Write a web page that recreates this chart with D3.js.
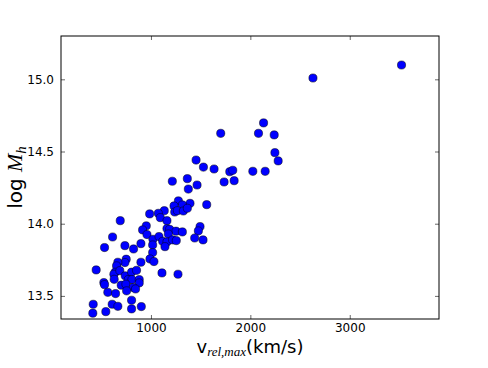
<!DOCTYPE html>
<html>
<head>
<meta charset="utf-8">
<script src="https://cdn.jsdelivr.net/npm/d3@7"></script>
<style>
  html, body { margin: 0; padding: 0; background: #fff; }
  svg { display: block; }
</style>
</head>
<body>
<svg id="chart" width="488" height="368"></svg>
<script>
// Data
const vrel = [3521, 2630, 2133, 1702, 2082, 2240, 2247, 2280, 2025, 2149,
  1454, 1528, 1635, 1793, 1823, 1736, 1837, 1215, 1366, 1376,
  1464, 1561, 1393, 1276, 1316, 1232, 1239, 1266, 1326, 1366,
  1134, 1074, 1094, 987, 1161, 953, 916, 960, 1020, 1081,
  1161, 1188, 1252, 1316, 1175, 1118, 1161, 1218, 1255, 1141,
  1494, 1477, 1440, 1524, 691, 614, 533, 738, 825, 899,
  1017, 1017, 990, 1030, 899, 751, 738, 667, 654, 449,
  640, 627, 687, 741, 805, 855, 630, 771, 808, 882,
  882, 526, 533, 701, 748, 822, 845, 566, 644, 755,
  805, 1111, 1272, 419, 610, 667, 903, 805, 546, 415];
const logMh = [15.099, 15.009, 14.698, 14.626, 14.626, 14.615, 14.492, 14.435, 14.363, 14.363,
  14.441, 14.392, 14.379, 14.360, 14.370, 14.289, 14.298, 14.294, 14.312, 14.240,
  14.268, 14.132, 14.141, 14.158, 14.130, 14.123, 14.081, 14.090, 14.088, 14.107,
  14.090, 14.072, 14.042, 14.068, 14.021, 13.985, 13.957, 13.925, 13.892, 13.911,
  13.966, 13.961, 13.948, 13.943, 13.929, 13.878, 13.874, 13.888, 13.883, 13.841,
  13.980, 13.950, 13.901, 13.888, 14.021, 13.908, 13.835, 13.848, 13.825, 13.862,
  13.853, 13.800, 13.756, 13.738, 13.733, 13.754, 13.731, 13.733, 13.708, 13.680,
  13.664, 13.650, 13.675, 13.639, 13.664, 13.677, 13.615, 13.613, 13.613, 13.613,
  13.590, 13.592, 13.578, 13.574, 13.581, 13.558, 13.548, 13.525, 13.516, 13.535,
  13.470, 13.659, 13.650, 13.442, 13.442, 13.428, 13.426, 13.410, 13.391, 13.380];
const xTicks = [1000, 2000, 3000];
const yTicks = [13.5, 14.0, 14.5, 15.0];
const xDomain = [95, 3898];
const yDomain = [13.34, 15.3];

const svg = d3.select("#chart");
const L = 61, R = 439, T = 36, B = 319;
const x = d3.scaleLinear().domain(xDomain).range([L, R]);
const y = d3.scaleLinear().domain(yDomain).range([B, T]);

const font = "'DejaVu Sans', sans-serif";
const serif = "'Liberation Serif', 'DejaVu Serif', serif";
const tickLen = 4;

// axes with inward ticks on all four sides
const gB = svg.append("g").attr("transform", `translate(0,${B})`)
  .call(d3.axisBottom(x).tickValues(xTicks).tickSizeInner(-tickLen).tickSizeOuter(0).tickPadding(4).tickFormat(d3.format("d")));
const gT = svg.append("g").attr("transform", `translate(0,${T})`)
  .call(d3.axisTop(x).tickValues(xTicks).tickSizeInner(-tickLen).tickSizeOuter(0).tickFormat(""));
const gL = svg.append("g").attr("transform", `translate(${L},0)`)
  .call(d3.axisLeft(y).tickValues(yTicks).tickSizeInner(-tickLen).tickSizeOuter(0).tickPadding(7).tickFormat(d3.format(".1f")));
const gR = svg.append("g").attr("transform", `translate(${R},0)`)
  .call(d3.axisRight(y).tickValues(yTicks).tickSizeInner(-tickLen).tickSizeOuter(0).tickFormat(""));

[gB, gT, gL, gR].forEach(g => {
  g.select(".domain").remove();
  g.selectAll(".tick line").attr("stroke", "#000").attr("stroke-width", 0.6);
  g.selectAll(".tick text").attr("font-family", font).attr("font-size", 12).attr("fill", "#000");
});

// points
svg.append("g").selectAll("circle")
  .data(vrel.map((v, i) => [v, logMh[i]]))
  .join("circle")
  .attr("cx", d => x(d[0]))
  .attr("cy", d => y(d[1]))
  .attr("r", 4.1)
  .attr("fill", "#0000ff")
  .attr("stroke", "#000")
  .attr("stroke-width", 0.5);

// frame
svg.append("rect").attr("x", L).attr("y", T).attr("width", R - L).attr("height", B - T)
  .attr("fill", "none").attr("stroke", "#000").attr("stroke-width", 1);

// x label
const xl = svg.append("text").attr("x", (L + R) / 2).attr("y", 353)
  .attr("text-anchor", "middle").attr("font-family", font).attr("font-size", 18).attr("fill", "#000");
xl.append("tspan").text("v");
xl.append("tspan").attr("font-family", serif).attr("font-style", "italic")
  .attr("font-size", 13).attr("dy", 3).text("rel,max");
xl.append("tspan").attr("dy", -3).text("(km/s)");

// y label
const yl = svg.append("text").attr("transform", `translate(22,${(T + B) / 2}) rotate(-90)`)
  .attr("text-anchor", "middle").attr("font-family", font).attr("font-size", 20).attr("fill", "#000");
yl.append("tspan").text("log ");
yl.append("tspan").attr("font-family", serif).attr("font-style", "italic")
  .attr("font-size", 22).text("M");
yl.append("tspan").attr("font-family", serif).attr("font-style", "italic")
  .attr("font-size", 15).attr("dy", 4).text("h");
</script>
</body>
</html>
